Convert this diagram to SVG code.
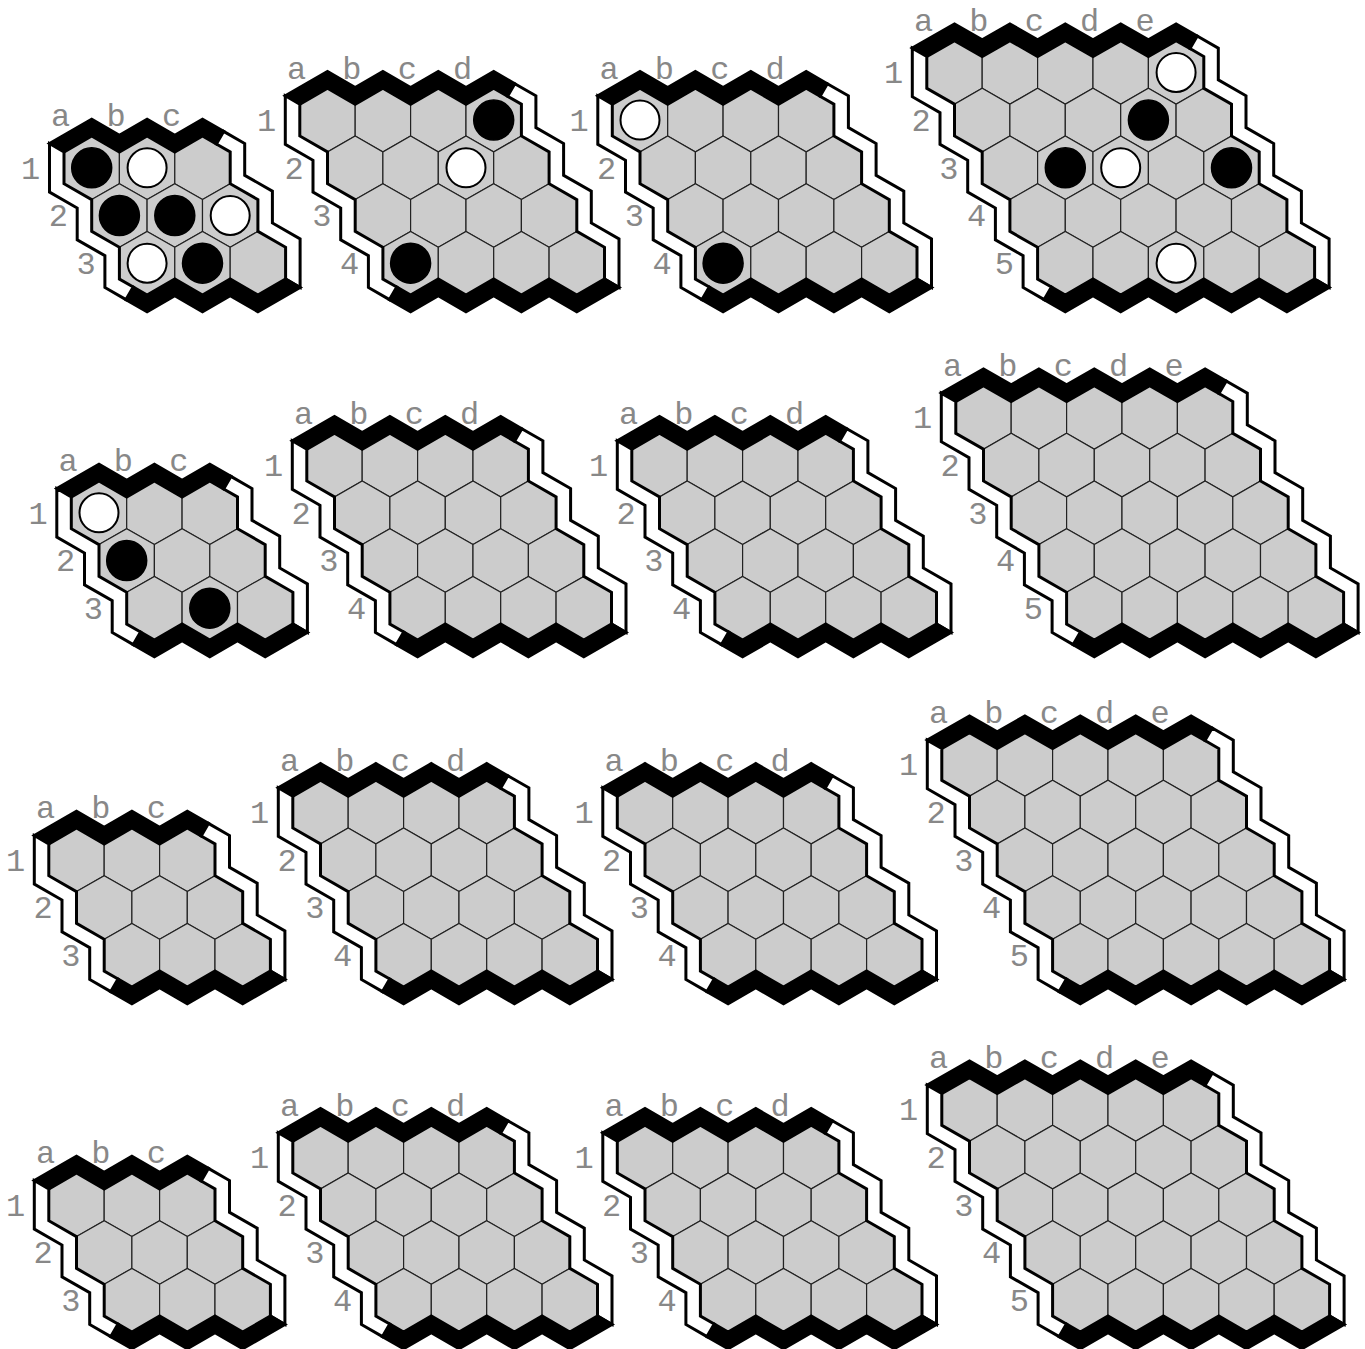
<svg xmlns="http://www.w3.org/2000/svg" xmlns:xlink="http://www.w3.org/1999/xlink" width="1365" height="1349" viewBox="0 0 1365 1349">
<style>
.cell{fill:#cccccc;stroke:#222;stroke-width:1.2}
.blk{fill:#000;stroke:#000;stroke-width:3;stroke-linejoin:miter}
.wht{fill:#fff;stroke:#000;stroke-width:3;stroke-linejoin:miter}
.lbl{font-family:"Liberation Mono","DejaVu Sans Mono",monospace;font-size:32px;fill:#888;text-anchor:middle}
.bs{fill:#000;stroke:#000;stroke-width:1.5}
.ws{fill:#fff;stroke:#000;stroke-width:2}
</style>
<defs>
<polygon id="h" class="cell" points="0,-31.8 27.7,-15.9 27.7,15.9 0,31.8 -27.7,15.9 -27.7,-15.9"/>
<g id="board3">
<use href="#h" x="0" y="0"/><use href="#h" x="55.4" y="0"/><use href="#h" x="110.8" y="0"/>
<use href="#h" x="27.7" y="47.7"/><use href="#h" x="83.1" y="47.7"/><use href="#h" x="138.5" y="47.7"/>
<use href="#h" x="55.4" y="95.4"/><use href="#h" x="110.8" y="95.4"/><use href="#h" x="166.2" y="95.4"/>
<path class="blk" d="M-42.2,-24.3 L0,-48.5 L27.7,-32.6 L55.4,-48.5 L83.1,-32.6 L110.8,-48.5 L131.9,-36.4 L124.65,-23.85 L110.8,-31.8 L83.1,-15.9 L55.4,-31.8 L27.7,-15.9 L0,-31.8 L-27.7,-15.9 Z"/>
<path class="wht" d="M131.9,-36.4 L153,-24.3 L153,7.5 L180.7,23.4 L180.7,55.2 L208.4,71.1 L208.4,119.7 L193.9,111.3 L193.9,79.5 L166.2,63.6 L166.2,31.8 L138.5,15.9 L138.5,-15.9 L124.65,-23.85 Z"/>
<path class="blk" d="M208.4,119.7 L166.2,143.9 L138.5,128 L110.8,143.9 L83.1,128 L55.4,143.9 L34.3,131.8 L41.55,119.25 L55.4,127.2 L83.1,111.3 L110.8,127.2 L138.5,111.3 L166.2,127.2 L193.9,111.3 Z"/>
<path class="wht" d="M34.3,131.8 L13.2,119.7 L13.2,87.9 L-14.5,72 L-14.5,40.2 L-42.2,24.3 L-42.2,-24.3 L-27.7,-15.9 L-27.7,15.9 L0,31.8 L0,63.6 L27.7,79.5 L27.7,111.3 L41.55,119.25 Z"/>
<text class="lbl" x="-31" y="-41.5">a</text><text class="lbl" x="24.4" y="-41.5">b</text><text class="lbl" x="79.8" y="-41.5">c</text>
<text class="lbl" x="-61" y="11">1</text><text class="lbl" x="-33.3" y="58.7">2</text><text class="lbl" x="-5.6" y="106.4">3</text>
</g>
<g id="board4">
<use href="#h" x="0" y="0"/><use href="#h" x="55.4" y="0"/><use href="#h" x="110.8" y="0"/><use href="#h" x="166.2" y="0"/>
<use href="#h" x="27.7" y="47.7"/><use href="#h" x="83.1" y="47.7"/><use href="#h" x="138.5" y="47.7"/><use href="#h" x="193.9" y="47.7"/>
<use href="#h" x="55.4" y="95.4"/><use href="#h" x="110.8" y="95.4"/><use href="#h" x="166.2" y="95.4"/><use href="#h" x="221.6" y="95.4"/>
<use href="#h" x="83.1" y="143.1"/><use href="#h" x="138.5" y="143.1"/><use href="#h" x="193.9" y="143.1"/><use href="#h" x="249.3" y="143.1"/>
<path class="blk" d="M-42.2,-24.3 L0,-48.5 L27.7,-32.6 L55.4,-48.5 L83.1,-32.6 L110.8,-48.5 L138.5,-32.6 L166.2,-48.5 L187.3,-36.4 L180.05,-23.85 L166.2,-31.8 L138.5,-15.9 L110.8,-31.8 L83.1,-15.9 L55.4,-31.8 L27.7,-15.9 L0,-31.8 L-27.7,-15.9 Z"/>
<path class="wht" d="M187.3,-36.4 L208.4,-24.3 L208.4,7.5 L236.1,23.4 L236.1,55.2 L263.8,71.1 L263.8,102.9 L291.5,118.8 L291.5,167.4 L277,159 L277,127.2 L249.3,111.3 L249.3,79.5 L221.6,63.6 L221.6,31.8 L193.9,15.9 L193.9,-15.9 L180.05,-23.85 Z"/>
<path class="blk" d="M291.5,167.4 L249.3,191.6 L221.6,175.7 L193.9,191.6 L166.2,175.7 L138.5,191.6 L110.8,175.7 L83.1,191.6 L62,179.5 L69.25,166.95 L83.1,174.9 L110.8,159 L138.5,174.9 L166.2,159 L193.9,174.9 L221.6,159 L249.3,174.9 L277,159 Z"/>
<path class="wht" d="M62,179.5 L40.9,167.4 L40.9,135.6 L13.2,119.7 L13.2,87.9 L-14.5,72 L-14.5,40.2 L-42.2,24.3 L-42.2,-24.3 L-27.7,-15.9 L-27.7,15.9 L0,31.8 L0,63.6 L27.7,79.5 L27.7,111.3 L55.4,127.2 L55.4,159 L69.25,166.95 Z"/>
<text class="lbl" x="-31" y="-41.5">a</text><text class="lbl" x="24.4" y="-41.5">b</text><text class="lbl" x="79.8" y="-41.5">c</text><text class="lbl" x="135.2" y="-41.5">d</text>
<text class="lbl" x="-61" y="11">1</text><text class="lbl" x="-33.3" y="58.7">2</text><text class="lbl" x="-5.6" y="106.4">3</text><text class="lbl" x="22.1" y="154.1">4</text>
</g>
<g id="board5">
<use href="#h" x="0" y="0"/><use href="#h" x="55.4" y="0"/><use href="#h" x="110.8" y="0"/><use href="#h" x="166.2" y="0"/><use href="#h" x="221.6" y="0"/>
<use href="#h" x="27.7" y="47.7"/><use href="#h" x="83.1" y="47.7"/><use href="#h" x="138.5" y="47.7"/><use href="#h" x="193.9" y="47.7"/><use href="#h" x="249.3" y="47.7"/>
<use href="#h" x="55.4" y="95.4"/><use href="#h" x="110.8" y="95.4"/><use href="#h" x="166.2" y="95.4"/><use href="#h" x="221.6" y="95.4"/><use href="#h" x="277" y="95.4"/>
<use href="#h" x="83.1" y="143.1"/><use href="#h" x="138.5" y="143.1"/><use href="#h" x="193.9" y="143.1"/><use href="#h" x="249.3" y="143.1"/><use href="#h" x="304.7" y="143.1"/>
<use href="#h" x="110.8" y="190.8"/><use href="#h" x="166.2" y="190.8"/><use href="#h" x="221.6" y="190.8"/><use href="#h" x="277" y="190.8"/><use href="#h" x="332.4" y="190.8"/>
<path class="blk" d="M-42.2,-24.3 L0,-48.5 L27.7,-32.6 L55.4,-48.5 L83.1,-32.6 L110.8,-48.5 L138.5,-32.6 L166.2,-48.5 L193.9,-32.6 L221.6,-48.5 L242.7,-36.4 L235.45,-23.85 L221.6,-31.8 L193.9,-15.9 L166.2,-31.8 L138.5,-15.9 L110.8,-31.8 L83.1,-15.9 L55.4,-31.8 L27.7,-15.9 L0,-31.8 L-27.7,-15.9 Z"/>
<path class="wht" d="M242.7,-36.4 L263.8,-24.3 L263.8,7.5 L291.5,23.4 L291.5,55.2 L319.2,71.1 L319.2,102.9 L346.9,118.8 L346.9,150.6 L374.6,166.5 L374.6,215.1 L360.1,206.7 L360.1,174.9 L332.4,159 L332.4,127.2 L304.7,111.3 L304.7,79.5 L277,63.6 L277,31.8 L249.3,15.9 L249.3,-15.9 L235.45,-23.85 Z"/>
<path class="blk" d="M374.6,215.1 L332.4,239.3 L304.7,223.4 L277,239.3 L249.3,223.4 L221.6,239.3 L193.9,223.4 L166.2,239.3 L138.5,223.4 L110.8,239.3 L89.7,227.2 L96.95,214.65 L110.8,222.6 L138.5,206.7 L166.2,222.6 L193.9,206.7 L221.6,222.6 L249.3,206.7 L277,222.6 L304.7,206.7 L332.4,222.6 L360.1,206.7 Z"/>
<path class="wht" d="M89.7,227.2 L68.6,215.1 L68.6,183.3 L40.9,167.4 L40.9,135.6 L13.2,119.7 L13.2,87.9 L-14.5,72 L-14.5,40.2 L-42.2,24.3 L-42.2,-24.3 L-27.7,-15.9 L-27.7,15.9 L0,31.8 L0,63.6 L27.7,79.5 L27.7,111.3 L55.4,127.2 L55.4,159 L83.1,174.9 L83.1,206.7 L96.95,214.65 Z"/>
<text class="lbl" x="-31" y="-41.5">a</text><text class="lbl" x="24.4" y="-41.5">b</text><text class="lbl" x="79.8" y="-41.5">c</text><text class="lbl" x="135.2" y="-41.5">d</text><text class="lbl" x="190.6" y="-41.5">e</text>
<text class="lbl" x="-61" y="11">1</text><text class="lbl" x="-33.3" y="58.7">2</text><text class="lbl" x="-5.6" y="106.4">3</text><text class="lbl" x="22.1" y="154.1">4</text><text class="lbl" x="49.8" y="201.8">5</text>
</g>
</defs>
<rect width="1365" height="1349" fill="#fff"/>
<g id="board-1-1" transform="translate(91.7,167.8)"><use href="#board3"/>
<circle class="bs" cx="0" cy="0" r="20"/><circle class="ws" cx="55.4" cy="0" r="19.5"/>
<circle class="bs" cx="27.7" cy="47.7" r="20"/><circle class="bs" cx="83.1" cy="47.7" r="20"/><circle class="ws" cx="138.5" cy="47.7" r="19.5"/>
<circle class="ws" cx="55.4" cy="95.4" r="19.5"/><circle class="bs" cx="110.8" cy="95.4" r="20"/></g>
<g id="board-1-2" transform="translate(327.5,120.1)"><use href="#board4"/>
<circle class="bs" cx="166.2" cy="0" r="20"/><circle class="ws" cx="138.5" cy="47.7" r="19.5"/><circle class="bs" cx="83.1" cy="143.1" r="20"/></g>
<g id="board-1-3" transform="translate(640,120.1)"><use href="#board4"/>
<circle class="ws" cx="0" cy="0" r="19.5"/><circle class="bs" cx="83.1" cy="143.1" r="20"/></g>
<g id="board-1-4" transform="translate(954.5,72.4)"><use href="#board5"/>
<circle class="ws" cx="221.6" cy="0" r="19.5"/><circle class="bs" cx="193.9" cy="47.7" r="20"/>
<circle class="bs" cx="110.8" cy="95.4" r="20"/><circle class="ws" cx="166.2" cy="95.4" r="19.5"/><circle class="bs" cx="277" cy="95.4" r="20"/>
<circle class="ws" cx="221.6" cy="190.8" r="19.5"/></g>
<g id="board-2-1" transform="translate(99,512.8)"><use href="#board3"/>
<circle class="ws" cx="0" cy="0" r="19.5"/><circle class="bs" cx="27.7" cy="47.7" r="20"/><circle class="bs" cx="110.8" cy="95.4" r="20"/></g>
<g id="board-2-2" transform="translate(334.5,465.1)"><use href="#board4"/></g>
<g id="board-2-3" transform="translate(659.5,465.1)"><use href="#board4"/></g>
<g id="board-2-4" transform="translate(983.5,417.4)"><use href="#board5"/></g>
<g id="board-3-1" transform="translate(76.5,859.8)"><use href="#board3"/></g>
<g id="board-3-2" transform="translate(320.5,812.1)"><use href="#board4"/></g>
<g id="board-3-3" transform="translate(645,812.1)"><use href="#board4"/></g>
<g id="board-3-4" transform="translate(969.5,764.4)"><use href="#board5"/></g>
<g id="board-4-1" transform="translate(76.5,1204.8)"><use href="#board3"/></g>
<g id="board-4-2" transform="translate(320.5,1157.1)"><use href="#board4"/></g>
<g id="board-4-3" transform="translate(645,1157.1)"><use href="#board4"/></g>
<g id="board-4-4" transform="translate(969.5,1109.4)"><use href="#board5"/></g>
<g id="connectors"/>
</svg>
